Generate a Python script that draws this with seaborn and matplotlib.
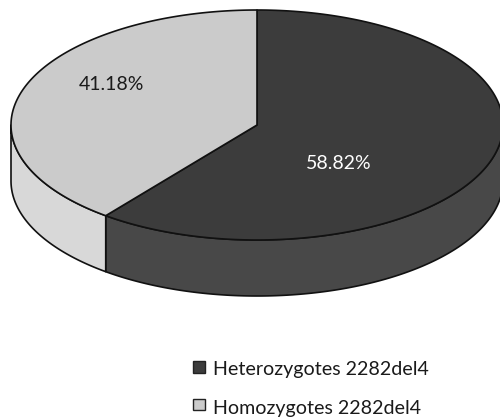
import numpy as np
import matplotlib
matplotlib.use("Agg")
import matplotlib.pyplot as plt
from matplotlib.patches import Polygon, Rectangle
import seaborn as sns

categories = ["Heterozygotes 2282del4", "Homozygotes 2282del4"]
percentages = [58.82, 41.18]
value_labels = ["58.82%", "41.18%"]
top_colors = sns.color_palette(["#3c3c3c", "#cbcbcb"])
side_colors = sns.color_palette(["#484848", "#d8d8d8"])

sns.set_theme(style="white")
plt.rcParams["font.family"] = ["Lato", "DejaVu Sans"]

CX, CY = 257.0, 125.0      # pie centre in canvas pixels
RX, RY = 246.0, 115.0      # semi-axes of the tilted disc
DEPTH = 56.0               # thickness of the pie
VIEW_STRETCH = 1.26        # widening of the sweep caused by the viewing angle
EDGE = "#111111"
LW = 1.2


def rim_angle(deg):
    """Map a clockwise angle from 12 o'clock onto the ellipse parameter."""
    t = np.radians(deg)
    return np.arctan2(VIEW_STRETCH * np.sin(t), np.cos(t)) % (2 * np.pi)


def rim(a0, a1, drop=0.0, n=200):
    t = np.linspace(a0, a1, n)
    return np.column_stack([CX + RX * np.sin(t), CY - RY * np.cos(t) + drop])


fig = plt.figure(figsize=(5.0, 4.19), dpi=100)
ax = fig.add_axes([0, 0, 1, 1])
ax.set_xlim(0, 500)
ax.set_ylim(419, 0)
ax.axis("off")

# Wedge limits follow the values, clockwise from the top
cuts = np.cumsum([0.0] + percentages) * 3.6
split = rim_angle(cuts[1])
right, left = np.pi / 2, 3 * np.pi / 2

# Outer wall of the visible front half
for a0, a1, color in [(right, split, side_colors[0]), (split, left, side_colors[1])]:
    upper = rim(a0, a1)
    lower = rim(a0, a1, DEPTH)[::-1]
    ax.add_patch(Polygon(np.vstack([upper, lower]), closed=True, facecolor=color,
                         edgecolor=EDGE, linewidth=LW, joinstyle="round", zorder=1))

# Top face
for a0, a1, color in [(0.0, split, top_colors[0]), (split, 2 * np.pi, top_colors[1])]:
    pts = np.vstack([[CX, CY], rim(a0, a1)])
    ax.add_patch(Polygon(pts, closed=True, facecolor=color, edgecolor=EDGE,
                         linewidth=LW, joinstyle="round", zorder=2))

# Value labels
ax.text(338.5, 163, value_labels[0], color="white", fontsize=14, ha="center", va="center", zorder=3)
ax.text(111, 84, value_labels[1], color="#1a1a1a", fontsize=14, ha="center", va="center", zorder=3)

# Legend entries
for name, color, box_y, base_y in zip(categories, top_colors, (361, 398.5), (375, 414)):
    ax.add_patch(Rectangle((193, box_y), 11.5, 11.5, facecolor=color, edgecolor="#222222",
                           linewidth=1.0, zorder=3))
    ax.text(213, base_y, name, color="#1a1a1a", fontsize=14.1, ha="left", va="baseline", zorder=3)

fig.savefig("out.png", dpi=100)
